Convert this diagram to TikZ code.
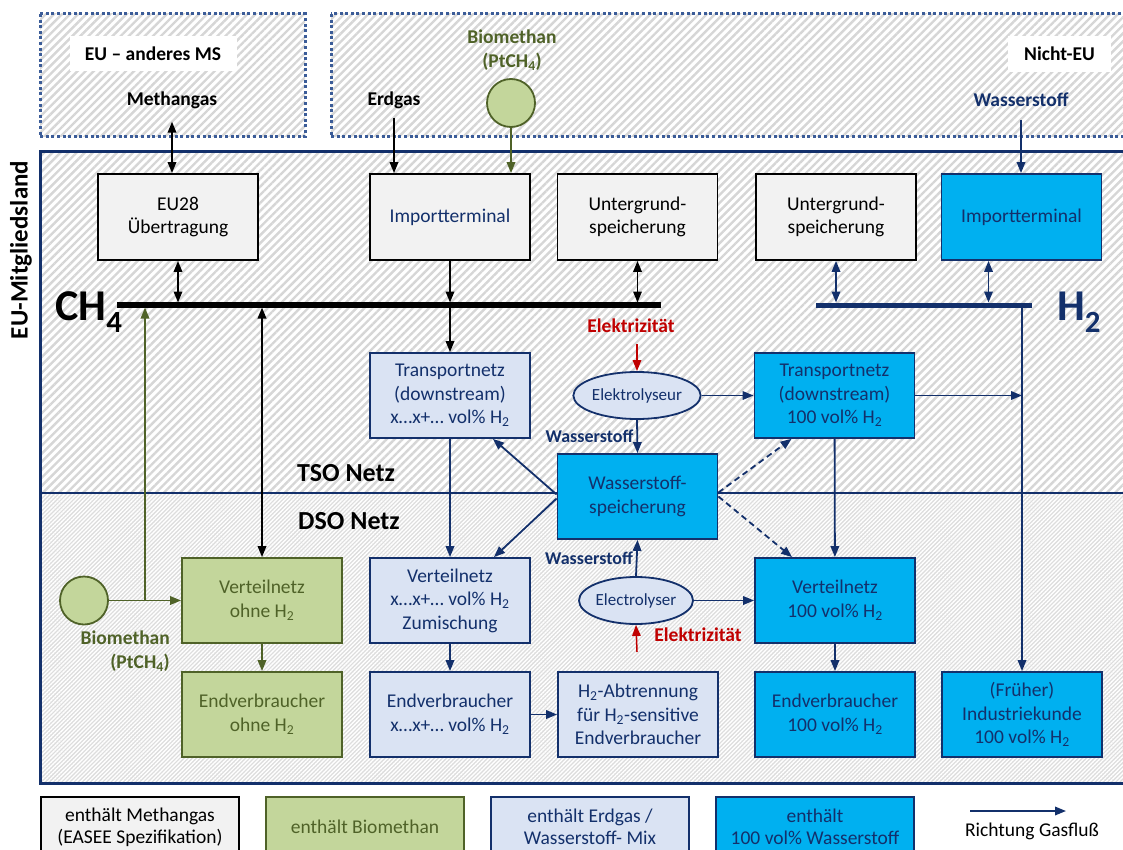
\documentclass[tikz,border=0pt]{standalone}
\usepackage{fontspec}
\setmainfont{Carlito}
\usepackage{tikz}
\usetikzlibrary{shapes.geometric,arrows.meta,positioning,calc,patterns.meta}
\definecolor{navyc}{HTML}{13306B}
\definecolor{grnfill}{HTML}{C3D69B}
\definecolor{grnline}{HTML}{4F6228}
\definecolor{mixfill}{HTML}{DAE3F3}
\definecolor{hfill}{HTML}{00B0F0}
\definecolor{gfill}{HTML}{F2F2F2}
\definecolor{elred}{HTML}{C00000}
\definecolor{dotc}{HTML}{3B5C98}
\definecolor{hatchc}{HTML}{D6D6D6}
\definecolor{dsofill}{HTML}{DDDDDD}
\newcommand{\Htwo}{H\textsubscript{2}}
\newcommand{\CHfour}{CH\textsubscript{4}}
\newcommand{\boxfont}{\fontsize{19.5}{23.5}\selectfont}
\newcommand{\lblfont}{\fontsize{19.5}{23.5}\selectfont\bfseries}

\begin{document}
\begin{tikzpicture}[x=1pt,y=-1pt,>={Triangle[length=11pt,width=8.5pt]},
  gbox/.style={rectangle,draw=black,line width=1.8pt,fill=gfill,
               minimum width=160pt,minimum height=86pt,inner sep=0pt,
               align=center,font=\boxfont},
  bbox/.style={gbox,draw=grnline,fill=grnfill,text=grnline},
  mbox/.style={gbox,draw=navyc,fill=mixfill,text=navyc},
  hbox/.style={gbox,draw=navyc,fill=hfill,text=navyc},
  elly/.style={ellipse,draw=navyc,line width=1.8pt,fill=mixfill,text=navyc,
               minimum width=102pt,minimum height=47pt,inner sep=0pt,
               font=\fontsize{17}{20}\selectfont},
  src/.style={circle,draw=grnline,line width=1.8pt,fill=grnfill,
              minimum size=48pt,inner sep=0pt},
  lbl/.style={font=\lblfont,inner sep=2pt,align=center},
  tagbox/.style={lbl,fill=white},
  wlbl/.style={font=\fontsize{18}{20}\selectfont\bfseries,text=navyc,inner sep=3pt},
  legbox/.style={gbox,minimum width=198pt,minimum height=60pt,
                 font=\fontsize{19.5}{22}\selectfont},
  arr/.style={->,line width=1.8pt,navyc},
  darr/.style={arr,<->},
  hatch/.style={pattern={Lines[angle=45,distance=5.7pt,line width=2.4pt]},
                pattern color=hatchc},
  dotbox/.style={draw=dotc,line width=3pt,dash pattern=on 3pt off 2.6pt}]
\useasboundingbox (0,0) rectangle (1123,850);
\clip (0,0) rectangle (1123,850);
%% ── Regionen (schraffiert) ───────────────────────────────────────────────
\path[hatch] (40,14) rectangle (305,137);
\path[hatch] (331,14) rectangle (1135,137);
\draw[dotbox] (40,14) rectangle (305,137);
\draw[dotbox] (331,14) rectangle (1135,137);
\path[hatch] (40,152) rectangle (1135,493);
\path[preaction={fill=dsofill},pattern={Lines[angle=45,distance=2.9pt,line width=1.4pt]},
      pattern color=white] (40,493) rectangle (1135,783);
\draw[navyc,line width=2.8pt] (40,493) -- (1135,493);
\draw[navyc,line width=3pt] (40,152) rectangle (1135,783);
%% ── Beschriftungen der Regionen ──────────────────────────────────────────
\node[rotate=90,font=\fontsize{25}{25}\selectfont\bfseries](euLand) at (21,250) {EU-Mitgliedsland};
\node[tagbox,minimum width=167pt,minimum height=35pt](euMS) at (153,53.5) {EU – anderes MS};
\node[tagbox,minimum width=103pt,minimum height=36pt](nichtEU) at (1059.5,54) {Nicht-EU};
\node[font=\fontsize{26}{26}\selectfont\bfseries](tso) at (346,473) {TSO Netz};
\node[font=\fontsize{26}{26}\selectfont\bfseries](dso) at (349,521) {DSO Netz};
\node[lbl](methTxt) at (172,100) {Methangas};
\node[lbl](erdTxt) at (394,100) {Erdgas};
\node[lbl,text=grnline](bioTopTxt) at (512,50) {Biomethan\\(PtCH\textsubscript{4})};
\node[lbl,text=navyc](h2Txt) at (1021,100) {Wasserstoff};
\node[src](bioT) at (511,103) {};
%% ── Sammelschienen CH4 / H2 ──────────────────────────────────────────────
\coordinate (ch4W) at (117,305);
\coordinate (ch4E) at (661,305);
\coordinate (h2W) at (816,305);
\coordinate (h2E) at (1032,305);
\draw[line width=5.5pt] (ch4W) -- (ch4E);
\draw[navyc,line width=5pt] (h2W) -- (h2E);
\node[font=\fontsize{44}{44}\selectfont\bfseries,inner sep=0pt](ch4Txt) at (89,312) {\CHfour};
\node[font=\fontsize{44}{44}\selectfont\bfseries,inner sep=0pt,text=navyc](h2BusTxt) at (1079,312) {\Htwo};
%% ── Obere Reihe ──────────────────────────────────────────────────────────
\node[gbox](eu28) at (178,217) {EU28\\Übertragung};
\node[gbox,text=navyc](impCH4) at (450,217) {Importterminal};
\node[gbox](ugsCH4) at (637.5,217) {Untergrund-\\speicherung};
\node[gbox](ugsH2) at (836,217) {Untergrund-\\speicherung};
\node[hbox](impH2) at (1021.5,217) {Importterminal};
%% ── Transport / Speicher ──────────────────────────────────────────────────
\node[mbox,minimum height=85pt](tnMix) at (450,395.5) {Transportnetz\\(downstream)\\x…x+… vol\% \Htwo};
\node[elly](elyTop) at (637,395.5) {Elektrolyseur};
\node[hbox,minimum height=85pt](tnH2) at (834.5,395.5) {Transportnetz\\(downstream)\\100 vol\% \Htwo};
\node[hbox,minimum height=85pt](h2sp) at (637.5,496.5) {Wasserstoff-\\speicherung};
\node[lbl,text=elred](elTop) at (631,326) {Elektrizität};
\coordinate (elTopS) at (637,344);
%% ── Verteilung / Endverbraucher ───────────────────────────────────────────
\node[src](bioL) at (84,600.5) {};
\node[lbl,text=grnline,anchor=east,align=right](bioLTxt) at (172,651) {Biomethan\\(PtCH\textsubscript{4})};
\node[bbox,minimum height=85pt](vnBio) at (262,600.5) {Verteilnetz\\ohne \Htwo};
\node[bbox,minimum height=85pt](evBio) at (262,714.5) {Endverbraucher\\ohne \Htwo};
\node[mbox,minimum height=85pt](vnMix) at (450,600.5) {Verteilnetz\\x…x+… vol\% \Htwo\\Zumischung};
\node[mbox,minimum height=85pt](evMix) at (450,714.5) {Endverbraucher\\x…x+… vol\% \Htwo};
\node[elly](elyBot) at (636,600.5) {Electrolyser};
\node[lbl,text=elred](elBot) at (698,635) {Elektrizität};
\coordinate (elBotS) at (637,652);
\node[mbox,minimum height=85pt](abtr) at (638,714.5) {\Htwo-Abtrennung\\für \Htwo-sensitive\\Endverbraucher};
\node[hbox,minimum height=85pt](vnH2) at (835,600.5) {Verteilnetz\\100 vol\% \Htwo};
\node[hbox,minimum height=85pt](evH2) at (835,714.5) {Endverbraucher\\100 vol\% \Htwo};
\node[hbox,minimum height=85pt](indH2) at (1022,714.5) {(Früher)\\Industriekunde\\100 vol\% \Htwo};
%% ── Gasflüsse Methan ─────────────────────────────────────────────────────
\draw[darr,black] ([yshift=-11pt]methTxt.south) -- (methTxt.south |- eu28.north);
\draw[arr,black] ([yshift=-7pt]erdTxt.south) -- (erdTxt.south |- impCH4.north);
\draw[arr,grnline] (bioT.south) -- (bioT.south |- impCH4.north);
\draw[darr,black,shorten >=2.5pt] (eu28.south) -- (eu28.south |- ch4W);
\draw[arr,black,shorten >=2.5pt] (impCH4.south) -- (impCH4.south |- ch4W);
\draw[arr,black] (impCH4.south |- ch4W) -- (tnMix.north);
\draw[darr,black,shorten >=2.5pt] (ugsCH4.south) -- (ugsCH4.south |- ch4W);
\draw[darr,black,shorten <=2.5pt] (vnBio.north |- ch4W) -- (vnBio.north);
\coordinate (bioJ) at (145,600.5);
\draw[arr,grnline] (bioL.east) -- (vnBio.west);
\draw[arr,grnline,shorten >=2.5pt] (bioJ) -- (bioJ |- ch4W);
\draw[arr,grnline] (vnBio) -- (evBio);
%% ── Gasflüsse Wasserstoff ────────────────────────────────────────────────
\draw[arr] ([yshift=-11pt]h2Txt.south) -- (h2Txt.south |- impH2.north);
\draw[darr,shorten >=2.5pt] (ugsH2.south) -- (ugsH2.south |- h2W);
\draw[darr,shorten >=2.5pt] ([xshift=-33pt]impH2.south) -- ([xshift=-33pt]impH2.south |- h2W);
\draw[arr] (indH2.north |- h2W) -- (indH2.north);
\draw[arr] (tnH2.east) -- (tnH2.east -| indH2.north);
\draw[arr,elred,line width=1.5pt] (elTopS) -- (elyTop.north);
\draw[arr] (elyTop.east) -- (tnH2.west);
\draw[arr] (elyTop.south) -- node[wlbl,left]{Wasserstoff} (h2sp.north);
\draw[arr] ([yshift=2pt]h2sp.west) -- ($(tnMix.south)+(43,0)$);
\draw[arr] ([yshift=-2pt]h2sp.west) -- ($(vnMix.north)+(44,0)$);
\draw[arr,dashed,dash pattern=on 6pt off 4pt] ([yshift=4pt]h2sp.east) -- ($(tnH2.south)+(-43,0)$);
\draw[arr,dashed,dash pattern=on 6pt off 4pt] (h2sp.east) -- ($(vnH2.north)+(-43,0)$);
\draw[arr] (tnMix) -- (vnMix);
\draw[arr] (tnH2) -- (vnH2);
\draw[arr] (vnMix) -- (evMix);
\draw[arr] (evMix) -- (abtr);
\draw[arr] (elyBot.north) -- node[wlbl,left]{Wasserstoff} (h2sp.south);
\draw[arr,elred,line width=1.5pt] (elBotS) -- (elyBot.south);
\draw[arr] (elyBot.east) -- (vnH2.west);
\draw[arr] (vnH2) -- (evH2);
%% ── Legende ──────────────────────────────────────────────────────────────
\node[legbox](legMeth) at (140,827) {enthält Methangas\\(EASEE Spezifikation)};
\node[legbox,draw=grnline,fill=grnfill,text=grnline](legBio) at (365,827) {enthält Biomethan};
\node[legbox,draw=navyc,fill=mixfill,text=navyc](legMix) at (590,827) {enthält Erdgas /\\Wasserstoff- Mix};
\node[legbox,draw=navyc,fill=hfill,text=navyc](legH2) at (815,827) {enthält\\100 vol\% Wasserstoff};
\coordinate (legA) at (970,811);
\coordinate (legB) at (1066,811);
\draw[arr] (legA) -- (legB);
\node[font=\boxfont](legTxt) at (1032,831) {Richtung Gasfluß};
\end{tikzpicture}
\end{document}
